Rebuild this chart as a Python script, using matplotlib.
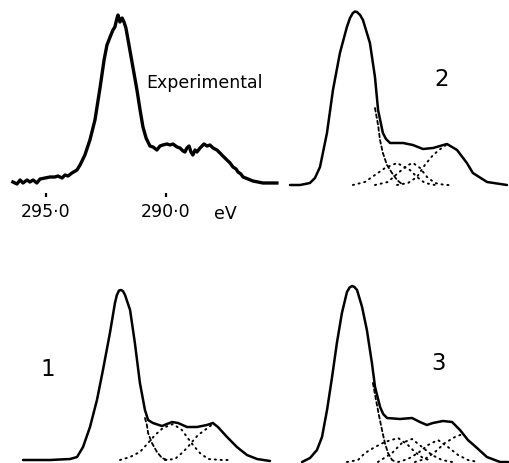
# C 1s spectrum: experimental trace and three curve-fitted versions
import matplotlib.pyplot as plt

plt.rcParams['font.family'] = ['DejaVu Sans']

# ---- data (binding energy in eV, intensity in arbitrary units) ----
# experimental trace
exp_ev = [296.38, 296.21, 296.08, 295.96, 295.79, 295.67, 295.54, 295.38, 295.25, 295.04,
          294.83, 294.63, 294.50, 294.33, 294.21, 294.08, 293.92, 293.71, 293.58, 293.38,
          293.17, 292.96, 292.75, 292.58, 292.46, 292.33, 292.21, 292.13, 292.04, 292.00,
          291.92, 291.83, 291.75, 291.67, 291.58, 291.38, 291.21, 291.08, 290.96, 290.83,
          290.75, 290.67, 290.54, 290.38, 290.25, 290.13, 289.96, 289.83, 289.71, 289.54,
          289.42, 289.29, 289.21, 289.13, 289.04, 288.96, 288.88, 288.79, 288.71, 288.58,
          288.42, 288.29, 288.17, 288.04, 287.88, 287.75, 287.63, 287.46, 287.33, 287.21,
          287.08, 287.00, 286.88, 286.79, 286.58, 286.38, 286.17, 285.96, 285.67, 285.38]
exp_int = [2, 0, 4, 1, 4, 2, 4, 1, 5, 6,
           7, 7, 8, 6, 9, 8, 11, 14, 19, 29,
           44, 64, 96, 124, 139, 147, 154, 157, 166, 169,
           162, 166, 162, 156, 144, 117, 94, 74, 57, 46,
           42, 38, 37, 34, 38, 39, 40, 39, 40, 37,
           36, 33, 32, 36, 38, 32, 29, 34, 32, 36,
           40, 38, 39, 36, 34, 31, 28, 24, 21, 17,
           15, 12, 10, 7, 5, 3, 2, 1, 1, 1]

# fit 2: envelope, tail of main peak and three minor components
fit2_ev = [294.75, 294.33, 293.92, 293.71, 293.50, 293.21, 292.96, 292.67, 292.38, 292.25,
           292.13, 292.04, 291.96, 291.83, 291.71, 291.42, 291.21, 291.08, 290.88, 290.75,
           290.58, 290.04, 289.63, 289.21, 288.79, 288.21, 287.79, 287.38, 287.13, 286.54,
           285.71]
fit2_int = [0, 0, 2, 7, 18, 52, 95, 132, 158, 167,
            172, 173.5, 173, 170, 165, 142, 108, 75, 52, 46,
            42, 42, 40, 36, 37, 41, 35, 22, 12, 3,
            0]
fit2_main_ev = [291.21, 291.08, 291.00, 290.88, 290.71, 290.50, 290.29, 290.04]
fit2_main_int = [77, 60, 45, 32, 20, 12, 5, 0]
fit2_a_ev = [292.13, 291.63, 291.21, 290.79, 290.29, 289.75, 289.46, 289.13, 288.71]
fit2_a_int = [0, 3, 10, 17, 22, 15, 8, 2, 0]
fit2_b_ev = [291.21, 290.67, 290.25, 289.83, 289.63, 289.33, 289.04, 288.71, 288.29, 287.96]
fit2_b_int = [0, 3, 12, 20, 22, 17, 8, 2, 0, 0]
fit2_c_ev = [290.29, 289.83, 289.46, 289.13, 288.79, 288.38, 288.17]
fit2_c_int = [0, 2, 8, 20, 30, 38, 41]

# fit 1: envelope, tail of main peak and two minor components
fit1_ev = [296.04, 294.92, 294.08, 293.79, 293.54, 293.25, 292.96, 292.71, 292.42, 292.21,
           292.13, 292.04, 291.96, 291.88, 291.79, 291.58, 291.38, 291.17, 290.96, 290.83,
           290.63, 290.25, 289.83, 289.58, 289.21, 288.79, 288.38, 288.13, 287.92, 287.54,
           287.13, 286.71, 286.29, 285.75]
fit1_int = [0, 0, 1, 3, 13, 33, 60, 90, 127, 157,
            165, 169.5, 170, 169, 165, 150, 117, 77, 50, 40,
            37, 34, 38, 37, 33, 33, 35, 37, 33, 23,
            13, 5, 1, -1]
fit1_main_ev = [290.96, 290.88, 290.83, 290.67, 290.46, 290.25, 290.04]
fit1_main_int = [42, 35, 27, 17, 8, 2, 0]
fit1_a_ev = [292.00, 291.58, 291.17, 290.83, 290.54, 290.21, 289.79, 289.42, 289.21, 288.96,
             288.67, 288.33, 287.75, 287.33]
fit1_a_int = [0, 3, 8, 17, 25, 32, 36, 30, 23, 15, 7, 1, 0, 0]
fit1_c_ev = [290.13, 289.71, 289.42, 289.21, 289.00, 288.75, 288.46, 288.13]
fit1_c_int = [0, 1, 7, 12, 18, 25, 30, 36]

# fit 3: envelope, tail of main peak and four minor components
fit3_ev = [294.08, 293.75, 293.46, 293.25, 293.04, 292.83, 292.63, 292.42, 292.21, 292.10,
           292.00, 291.90, 291.79, 291.58, 291.38, 291.17, 291.04, 290.83, 290.70, 290.54,
           290.00, 289.50, 289.17, 288.88, 288.63, 288.21, 287.83, 287.50, 287.17, 286.79,
           286.38, 285.83, 285.50]
fit3_int = [0, 4, 12, 25, 52, 85, 119, 149, 170, 174.5,
            176, 175, 172, 155, 132, 99, 75, 55, 48, 44,
            43, 44, 40, 37, 39, 41, 40, 32, 22, 14,
            5, 0, 0]
fit3_main_ev = [291.13, 291.00, 290.88, 290.75, 290.63, 290.50, 290.33, 290.17]
fit3_main_int = [79, 62, 47, 32, 19, 9, 2, 0]
fit3_a_ev = [292.21, 291.75, 291.46, 291.04, 290.63, 290.08, 289.67, 289.38, 289.04, 288.67]
fit3_a_int = [0, 2, 9, 15, 20, 24, 17, 10, 4, 1]
fit3_b_ev = [290.92, 290.33, 289.92, 289.50, 289.08, 288.67, 288.25, 287.83]
fit3_b_int = [0, 9, 19, 23, 15, 7, 2, 0]
fit3_c_ev = [290.08, 289.67, 289.25, 288.83, 288.42, 288.00, 287.58, 287.17, 286.75]
fit3_c_int = [0, 3, 9, 17, 22, 15, 7, 2, 0]
fit3_d_ev = [289.38, 288.96, 288.54, 288.13, 287.71, 287.38]
fit3_d_int = [0, 3, 10, 19, 25, 28]

tick_ev = [295, 290]
tick_labels = ['295·0', '290·0']

# ---- layout ----
W, H = 510, 463
fig = plt.figure(figsize=(W / 100, H / 100), dpi=100)

# every panel has the same energy scale (24 px per eV); offsets shift the panels
def add_panel(off, base, x0=0, y0=0, x1=W, y1=H):
    ax = fig.add_axes([x0 / W, 1 - y1 / H, (x1 - x0) / W, (y1 - y0) / H])
    ax.set_xlim(295 - (x0 - off - 46) / 24, 295 - (x1 - off - 46) / 24)
    ax.set_ylim(base - y1, base - y0)
    ax.patch.set_alpha(0)
    for s in ax.spines.values():
        s.set_visible(False)
    ax.set_yticks([])
    return ax

solid = dict(color='black', lw=1.8, solid_capstyle='round', solid_joinstyle='round', clip_on=False)
tail = dict(color='black', lw=1.3, linestyle=(0, (2.0, 1.6)), dash_capstyle='round', clip_on=False)
dots = dict(color='black', lw=1.4, linestyle=(0, (0.6, 2.4)), dash_capstyle='round', clip_on=False)

# experimental
ax0 = add_panel(0, 184, 0, 0, 280, 197)
ax0.plot(exp_ev, exp_int, color='black', lw=2.4, solid_joinstyle='round', clip_on=False)
ax0.set_xticks(tick_ev)
ax0.set_xticklabels(tick_labels, fontsize=12.5)
ax0.tick_params(axis='x', direction='in', length=3, width=1.6, pad=4)
ax0.text(287.54, -35, 'eV', fontsize=12.5, ha='center', va='baseline')
ax0.text(290.83, 96, 'Experimental', fontsize=12.5, ha='left', va='baseline')

# fit 2 (top right)
ax2 = add_panel(238, 185)
ax2.axis('off')
ax2.plot(fit2_ev, fit2_int, **solid)
ax2.plot(fit2_main_ev, fit2_main_int, **tail)
for ev, it in [(fit2_a_ev, fit2_a_int), (fit2_b_ev, fit2_b_int), (fit2_c_ev, fit2_c_int)]:
    ax2.plot(ev, it, **dots)
ax2.text(288.42, 105, '2', fontsize=16.5, ha='center', va='center')

# fit 1 (bottom left)
ax1 = add_panel(2, 460)
ax1.axis('off')
ax1.plot(fit1_ev, fit1_int, **solid)
ax1.plot(fit1_main_ev, fit1_main_int, **tail)
for ev, it in [(fit1_a_ev, fit1_a_int), (fit1_c_ev, fit1_c_int)]:
    ax1.plot(ev, it, **dots)
ax1.text(295.0, 90, '1', fontsize=16.5, ha='center', va='center')

# fit 3 (bottom right)
ax3 = add_panel(234, 462)
ax3.axis('off')
ax3.plot(fit3_ev, fit3_int, **solid)
ax3.plot(fit3_main_ev, fit3_main_int, **tail)
for ev, it in [(fit3_a_ev, fit3_a_int), (fit3_b_ev, fit3_b_int),
               (fit3_c_ev, fit3_c_int), (fit3_d_ev, fit3_d_int)]:
    ax3.plot(ev, it, **dots)
ax3.text(288.38, 99, '3', fontsize=16.5, ha='center', va='center')

fig.savefig('out.png', dpi=100, facecolor='white')
